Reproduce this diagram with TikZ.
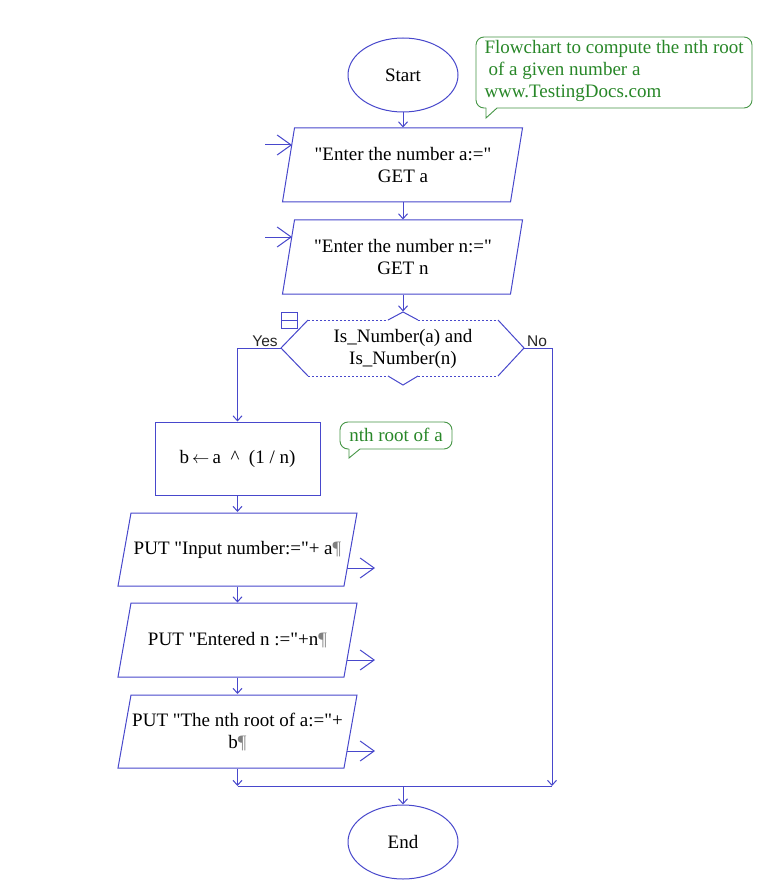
\documentclass[tikz,border=0pt]{standalone}
\usepackage{fontspec}
\setmainfont{Liberation Serif}[Ligatures=TeXOff]
\newfontfamily\labfont{Liberation Sans}
\usetikzlibrary{arrows.meta,shapes.geometric}
\definecolor{fb}{RGB}{72,72,204}
\definecolor{fg}{RGB}{40,135,40}
\definecolor{fgb}{RGB}{70,150,70}
\begin{document}
\begin{tikzpicture}[x=1pt,y=-1pt,line width=1pt,
  every node/.style={font=\fontsize{19}{22}\selectfont,text=black,inner sep=0pt},
  term/.style={ellipse,draw=fb,minimum width=110,minimum height=74},
  txtbox/.style={rectangle,minimum width=228,minimum height=74,align=center},
  procbox/.style={rectangle,draw=fb,minimum width=165,minimum height=73,align=center},
  flow/.style={draw=fb,-{Straight Barb[length=5pt,width=9pt]}},
  plain/.style={draw=fb},
  sidearrow/.style={draw=fb,-{Straight Barb[length=14pt,width=20pt]}},
  notetext/.style={text=fg,align=left},
  notebox/.style={draw=fgb,line width=0.9pt},
  yesno/.style={font=\labfont\fontsize{15.5}{18}\selectfont,text=black!85}
]
\path[fill=white,use as bounding box] (0,0) rectangle (768,893);

% ---------- nodes ----------
\node[term] (start) at (403,75) {Start};
\node[txtbox] (in1) at (403,165) {"Enter the number a:="\\GET a};
\node[txtbox] (in2) at (403,257) {"Enter the number n:="\\GET n};
\node[rectangle,minimum width=243,minimum height=73,align=center] (dec) at (403,348.5)
  {Is\_Number(a) and\\Is\_Number(n)};
\node[procbox] (bb) at (237.5,458.5) {b\,$\leftarrow$\,a \ \textasciicircum\ \ (1 / n)};
\node[txtbox] (out1) at (237.5,549.5) {PUT "Input number:="+ a{\color{gray}¶}};
\node[txtbox] (out2) at (237.5,640) {PUT "Entered n :="+n{\color{gray}¶}};
\node[txtbox] (out3) at (237.5,731.5) {PUT "The nth root of a:="+\\b{\color{gray}¶}};
\node[term] (end) at (403,842) {End};

% ---------- shapes ----------
% input parallelograms
\draw[plain] (294.5,128) -- (522.5,128) -- (510.5,202) -- (282.5,202) -- cycle;
\draw[plain] (294.5,220) -- (522.5,220) -- (510.5,294) -- (282.5,294) -- cycle;
% output parallelograms
\draw[plain] (131,513) -- (357,513) -- (344,586) -- (118,586) -- cycle;
\draw[plain] (131,603) -- (357,603) -- (344,677) -- (118,677) -- cycle;
\draw[plain] (131,695) -- (357,695) -- (344,768) -- (118,768) -- cycle;
% decision
\draw[plain] (308,320) -- (281,348) -- (308,376);
\draw[plain] (498,320) -- (524,348) -- (498,376);
\draw[draw=fb,line width=0.8pt,dash pattern=on 2pt off 2pt] (308,320) -- (388,320) (418,320) -- (498,320);
\draw[draw=fb,line width=0.8pt,dash pattern=on 2pt off 2pt] (308,376) -- (388,376) (418,376) -- (498,376);
\draw[plain] (388,320) -- (403,312) -- (418,320);
\draw[plain] (388,376) -- (403,385) -- (418,376);
% collapse icon
\draw[plain] (281,312) rectangle (297,328);
\draw[plain] (281,320) -- (297,320);

% ---------- callouts ----------
\draw[notebox,rounded corners=8pt] (486,108) -- (476,108) -- (476,37) -- (752,37) -- (752,108) -- (497,108);
\draw[notebox] (497,108) -- (486,118) -- (486,108);
\node[notetext,anchor=west] (note1) at (484,71)
  {Flowchart to compute the nth root\\\hspace*{4pt}of a given number a\\www.TestingDocs.com};
\draw[notebox,rounded corners=8pt] (349,449) -- (340,449) -- (340,422) -- (452,422) -- (452,449) -- (360,449);
\draw[notebox] (360,449) -- (349,458) -- (349,449);
\node[notetext] (note2) at (396,435) {nth root of a};

% ---------- side arrows ----------
\coordinate (i1a) at (265,145); \coordinate (i1b) at (292,145);
\coordinate (i2a) at (265,237); \coordinate (i2b) at (292,237);
\coordinate (o1a) at (347,568); \coordinate (o1b) at (375,568);
\coordinate (o2a) at (347,660); \coordinate (o2b) at (375,660);
\coordinate (o3a) at (347,751); \coordinate (o3b) at (375,751);
\draw[sidearrow] (i1a) -- (i1b);
\draw[sidearrow] (i2a) -- (i2b);
\draw[sidearrow] (o1a) -- (o1b);
\draw[sidearrow] (o2a) -- (o2b);
\draw[sidearrow] (o3a) -- (o3b);

% ---------- connectors ----------
\coordinate (jl) at (237.5,786);
\coordinate (jr) at (552,786);
\coordinate (jm) at (403,786);
\coordinate (dl) at (281,348);
\coordinate (dr) at (524,348);
\draw[flow] (start.south) -- (in1.north);
\draw[flow] (in1.south) -- (in2.north);
\draw[flow] (in2.south) -- (dec.north);
\draw[flow] (dl) -| (bb.north);
\draw[flow] (dr) -| (jr);
\draw[flow] (bb.south) -- (out1.north);
\draw[flow] (out1.south) -- (out2.north);
\draw[flow] (out2.south) -- (out3.north);
\draw[flow] (out3.south) -- (jl);
\draw[plain] (jl) -- (jr);
\draw[flow] (jm) -- (end.north);

\node[yesno] (yes) at (265,341) {Yes};
\node[yesno] (no) at (537,341) {No};
\end{tikzpicture}
\end{document}
